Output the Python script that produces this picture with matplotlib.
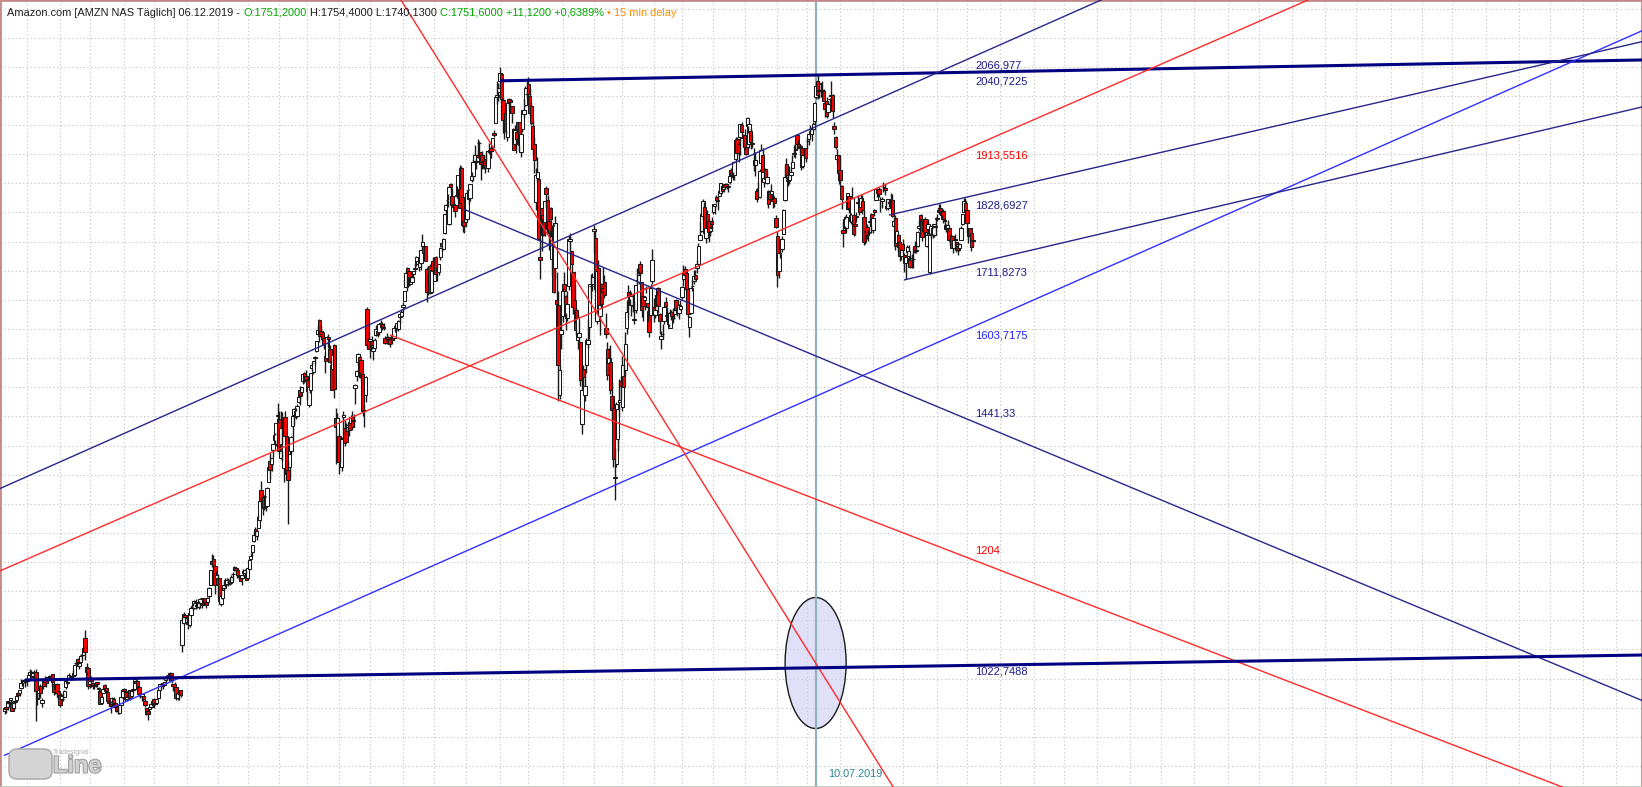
import matplotlib
matplotlib.use("Agg")
import matplotlib.pyplot as plt
import matplotlib.patheffects as pe
from matplotlib.patches import Ellipse, FancyBboxPatch
from matplotlib.transforms import blended_transform_factory, IdentityTransform
import numpy as np

# ---- daily OHLC, AMZN, 10.05.2017 .. 06.12.2019 (one line per month) ----
opens = [
    944, 951, 951, 960, 963, 959, 950, 962, 963, 975, 976, 984, 996, 996, 997,
    999, 998, 1007, 1012, 1005, 1012, 1012, 967, 976, 988, 958, 996, 1000, 996, 999, 1004, 1003, 1008, 990, 982, 990, 978,
    972, 965, 965, 969, 985, 993, 1000, 1004, 1004, 1004, 1007, 1027, 1034, 1022, 1029, 1040, 1040, 1070, 1012, 1019,
    990, 1001, 993, 989, 989, 994, 984, 978, 958, 976, 989, 984, 977, 961, 958, 957, 965, 958, 951, 947, 941, 954, 969,
    983, 977, 965, 971, 980, 971, 980, 982, 996, 996, 985, 974, 971, 971, 962, 949, 945, 948, 952, 957,
    965, 958, 958, 967, 981, 991, 993, 989, 997, 1003, 1005, 1008, 1010, 990, 990, 985, 966, 974, 980, 1058, 1096, 1109,
    1105, 1097, 1092, 1109, 1125, 1122, 1132, 1126, 1123, 1130, 1128, 1137, 1139, 1132, 1132, 1141, 1160, 1202, 1206, 1194, 1173,
    1172, 1173, 1128, 1138, 1156, 1170, 1163, 1166, 1170, 1165, 1179, 1187, 1189, 1187, 1176, 1172, 1172, 1184, 1182, 1182,
    1173, 1188, 1205, 1217, 1236, 1256, 1245, 1259, 1273, 1323, 1312, 1312, 1312, 1297, 1338, 1374, 1368, 1393, 1409, 1403, 1451,
    1446, 1378, 1403, 1361, 1449, 1417, 1358, 1364, 1391, 1434, 1453, 1460, 1451, 1475, 1495, 1492, 1510, 1525, 1519,
    1513, 1469, 1495, 1533, 1526, 1551, 1563, 1592, 1616, 1597, 1595, 1584, 1554, 1550, 1586, 1565, 1539, 1531, 1573, 1448, 1406,
    1417, 1391, 1363, 1449, 1430, 1425, 1431, 1440, 1439, 1449, 1443, 1498, 1519, 1543, 1552, 1547, 1523, 1460, 1487, 1634, 1582,
    1580, 1580, 1562, 1567, 1589, 1596, 1595, 1611, 1609, 1604, 1584, 1581, 1587, 1582, 1586, 1590, 1584, 1605, 1602, 1600, 1620, 1623,
    1638, 1648, 1672, 1704, 1699, 1677, 1681, 1694, 1703, 1714, 1711, 1706, 1714, 1742, 1743, 1743, 1703, 1679, 1708, 1664, 1717,
    1682, 1723, 1705, 1697, 1724, 1747, 1737, 1764, 1804, 1821, 1780, 1849, 1829, 1810, 1812, 1829, 1829, 1840, 1876, 1827, 1786,
    1784, 1788, 1838, 1825, 1855, 1862, 1888, 1888, 1898, 1919, 1904, 1899, 1888, 1891, 1886, 1876, 1907, 1910, 1913, 1937, 1954, 1998, 2007,
    2026, 2038, 1993, 1939, 1971, 1929, 1994, 1993, 1983, 1944, 1917, 1938, 1955, 1955, 1903, 1943, 1969, 1984, 2004,
    2021, 1999, 1982, 1949, 1918, 1818, 1859, 1857, 1724, 1808, 1795, 1784, 1842, 1821, 1785, 1807, 1720, 1777, 1704, 1649, 1642, 1486, 1591,
    1623, 1678, 1657, 1619, 1673, 1751, 1733, 1698, 1650, 1633, 1581, 1587, 1577, 1437, 1532, 1487, 1539, 1575, 1604, 1674, 1678,
    1769, 1756, 1614, 1705, 1623, 1678, 1670, 1680, 1601, 1566, 1541, 1543, 1485, 1464, 1346, 1368, 1412, 1474, 1510,
    1466, 1520, 1530, 1602, 1664, 1652, 1641, 1640, 1615, 1632, 1684, 1680, 1712, 1681, 1657, 1650, 1670, 1644, 1631, 1624, 1683,
    1638, 1624, 1643, 1670, 1626, 1582, 1592, 1614, 1647, 1624, 1627, 1601, 1630, 1619, 1625, 1650, 1630, 1628, 1635,
    1655, 1686, 1703, 1696, 1668, 1604, 1627, 1673, 1683, 1692, 1704, 1712, 1753, 1769, 1794, 1810, 1757, 1797, 1785, 1769, 1786,
    1800, 1811, 1826, 1821, 1829, 1833, 1845, 1841, 1848, 1848, 1843, 1852, 1872, 1861, 1864, 1891, 1926, 1917, 1929, 1950, 1930,
    1933, 1913, 1949, 1918, 1940, 1918, 1900, 1881, 1836, 1839, 1827, 1885, 1898, 1852, 1874, 1851, 1836, 1837, 1832, 1823, 1825, 1791,
    1760, 1700, 1749, 1738, 1763, 1822, 1883, 1854, 1856, 1864, 1877, 1901, 1907, 1933, 1917, 1913, 1911, 1880, 1903, 1910,
    1922, 1926, 1936, 1935, 1944, 1957, 1998, 2025, 2008, 2022, 2010, 2008, 1987, 1992, 1972, 1995, 2000, 2002, 1949, 1930, 1892, 1898,
    1872, 1846, 1770, 1776, 1773, 1806, 1828, 1796, 1783, 1796, 1781, 1793, 1818, 1815, 1809, 1819, 1793, 1766, 1775, 1766, 1784, 1797,
    1770, 1805, 1822, 1838, 1841, 1822, 1820, 1843, 1842, 1811, 1807, 1818, 1821, 1821, 1777, 1790, 1747, 1762, 1749, 1726,
    1746, 1727, 1714, 1732, 1726, 1722, 1719, 1720, 1742, 1733, 1742, 1773, 1796, 1788, 1769, 1788, 1743, 1771, 1697, 1762, 1774, 1762, 1775,
    1788, 1801, 1808, 1801, 1803, 1787, 1779, 1774, 1774, 1751, 1760, 1739, 1754, 1750, 1743, 1739, 1753, 1780, 1801, 1817,
    1805, 1760, 1774, 1764, 1751,
]
highs = [
    951, 952, 962, 962, 967, 961, 962, 963, 973, 977, 981, 999, 998, 999, 999,
    1001, 1008, 1017, 1014, 1012, 1015, 1017, 975, 982, 991, 966, 999, 1005, 996, 1004, 1007, 1006, 1008, 994, 991, 992, 979,
    974, 975, 975, 981, 999, 997, 1009, 1007, 1007, 1015, 1025, 1031, 1035, 1027, 1043, 1043, 1054, 1083, 1026, 1020,
    996, 1004, 994, 992, 993, 995, 986, 981, 972, 985, 990, 984, 977, 966, 961, 969, 968, 961, 953, 953, 955, 969, 981,
    984, 977, 970, 981, 980, 979, 984, 1002, 1001, 997, 987, 976, 973, 971, 965, 950, 947, 952, 959, 962,
    966, 961, 966, 982, 991, 993, 994, 995, 1007, 1005, 1008, 1011, 1010, 991, 994, 986, 977, 977, 981, 1105, 1114, 1111,
    1109, 1101, 1112, 1125, 1130, 1135, 1136, 1131, 1133, 1138, 1130, 1138, 1139, 1133, 1140, 1157, 1186, 1214, 1213, 1194, 1184,
    1180, 1173, 1150, 1155, 1167, 1172, 1172, 1172, 1172, 1178, 1183, 1194, 1192, 1188, 1179, 1174, 1178, 1188, 1188, 1185,
    1191, 1206, 1216, 1230, 1254, 1260, 1255, 1280, 1305, 1339, 1316, 1315, 1313, 1328, 1364, 1388, 1379, 1402, 1422, 1439, 1473,
    1459, 1459, 1458, 1444, 1460, 1417, 1373, 1391, 1416, 1452, 1465, 1465, 1471, 1489, 1502, 1500, 1522, 1526, 1529,
    1519, 1501, 1525, 1544, 1545, 1553, 1579, 1606, 1618, 1606, 1596, 1587, 1561, 1588, 1591, 1573, 1550, 1556, 1575, 1465, 1455,
    1421, 1415, 1414, 1459, 1443, 1438, 1439, 1440, 1452, 1459, 1454, 1505, 1530, 1559, 1555, 1549, 1523, 1469, 1519, 1638, 1597,
    1583, 1588, 1572, 1584, 1607, 1597, 1608, 1615, 1612, 1611, 1588, 1593, 1588, 1583, 1588, 1592, 1602, 1608, 1611, 1616, 1626, 1635,
    1646, 1666, 1697, 1707, 1699, 1689, 1694, 1699, 1714, 1725, 1718, 1724, 1736, 1763, 1744, 1743, 1706, 1696, 1711, 1705, 1723,
    1717, 1725, 1709, 1711, 1740, 1751, 1756, 1797, 1814, 1832, 1845, 1851, 1842, 1822, 1812, 1845, 1864, 1882, 1880, 1829, 1801,
    1798, 1836, 1841, 1848, 1869, 1891, 1915, 1893, 1926, 1922, 1904, 1905, 1898, 1892, 1906, 1905, 1919, 1912, 1928, 1942, 1999, 2025, 2022,
    2050, 2040, 1998, 1954, 1971, 1988, 1997, 1994, 1983, 1945, 1950, 1940, 1955, 1956, 1940, 1975, 1995, 2017, 2027,
    2033, 2013, 1990, 1957, 1929, 1876, 1896, 1858, 1755, 1808, 1795, 1820, 1845, 1830, 1809, 1810, 1778, 1780, 1794, 1698, 1665, 1539, 1623,
    1670, 1697, 1658, 1665, 1759, 1765, 1733, 1698, 1677, 1638, 1626, 1615, 1578, 1534, 1539, 1525, 1585, 1617, 1678, 1695, 1696,
    1779, 1770, 1701, 1719, 1657, 1679, 1706, 1693, 1628, 1577, 1567, 1572, 1509, 1481, 1396, 1474, 1462, 1514, 1520,
    1554, 1538, 1594, 1649, 1676, 1667, 1663, 1660, 1648, 1675, 1705, 1700, 1716, 1681, 1657, 1657, 1674, 1645, 1633, 1677, 1737,
    1653, 1649, 1665, 1672, 1627, 1596, 1608, 1639, 1655, 1637, 1629, 1634, 1632, 1636, 1634, 1652, 1640, 1643, 1650,
    1674, 1710, 1708, 1697, 1669, 1623, 1672, 1685, 1701, 1702, 1718, 1747, 1784, 1799, 1823, 1818, 1783, 1805, 1789, 1777, 1792,
    1815, 1815, 1830, 1828, 1839, 1851, 1848, 1849, 1850, 1851, 1849, 1870, 1876, 1870, 1889, 1929, 1929, 1923, 1951, 1956, 1935,
    1944, 1918, 1964, 1959, 1945, 1935, 1910, 1904, 1842, 1852, 1874, 1918, 1910, 1867, 1876, 1872, 1838, 1838, 1849, 1831, 1829, 1796,
    1768, 1730, 1749, 1760, 1806, 1884, 1893, 1869, 1880, 1876, 1898, 1916, 1919, 1935, 1925, 1917, 1916, 1898, 1911, 1911,
    1929, 1935, 1950, 1947, 1956, 1989, 2024, 2036, 2018, 2023, 2026, 2012, 1987, 1998, 1990, 1997, 2026, 2004, 1956, 1932, 1909, 1899,
    1897, 1847, 1786, 1794, 1798, 1834, 1829, 1799, 1843, 1798, 1788, 1801, 1830, 1817, 1831, 1830, 1804, 1770, 1780, 1770, 1792, 1799,
    1790, 1806, 1842, 1840, 1843, 1826, 1826, 1853, 1848, 1822, 1823, 1823, 1833, 1831, 1792, 1796, 1770, 1764, 1751, 1738,
    1755, 1731, 1726, 1745, 1745, 1727, 1729, 1739, 1751, 1749, 1768, 1787, 1798, 1789, 1787, 1793, 1767, 1789, 1764, 1777, 1778, 1781, 1793,
    1797, 1814, 1815, 1805, 1806, 1790, 1780, 1787, 1775, 1761, 1761, 1755, 1763, 1750, 1750, 1748, 1776, 1798, 1824, 1825,
    1805, 1773, 1772, 1764, 1754,
]
lows = [
    940, 941, 947, 951, 957, 944, 947, 956, 963, 969, 970, 982, 988, 992, 985,
    988, 996, 1004, 1001, 1001, 1005, 927, 954, 967, 967, 952, 982, 994, 986, 994, 997, 998, 987, 972, 974, 969, 964,
    951, 959, 961, 969, 983, 989, 999, 997, 997, 1004, 1004, 1022, 1023, 1016, 1028, 1032, 1040, 1032, 1007, 982,
    984, 986, 982, 982, 985, 985, 975, 956, 956, 975, 979, 976, 960, 953, 941, 954, 954, 950, 943, 940, 940, 954, 967,
    973, 962, 962, 967, 963, 970, 975, 980, 990, 980, 973, 967, 962, 962, 952, 937, 929, 941, 950, 953,
    950, 954, 957, 966, 978, 983, 983, 987, 995, 999, 996, 1002, 993, 978, 982, 964, 964, 963, 969, 1046, 1092, 1102,
    1096, 1086, 1088, 1108, 1118, 1119, 1119, 1121, 1119, 1122, 1121, 1126, 1127, 1122, 1129, 1138, 1160, 1192, 1184, 1145, 1167,
    1139, 1128, 1124, 1137, 1151, 1157, 1160, 1159, 1160, 1163, 1167, 1184, 1180, 1172, 1170, 1167, 1161, 1176, 1175, 1169,
    1170, 1187, 1205, 1210, 1235, 1245, 1238, 1259, 1268, 1301, 1281, 1289, 1288, 1297, 1338, 1343, 1357, 1378, 1403, 1400, 1439,
    1385, 1377, 1373, 1338, 1415, 1351, 1266, 1344, 1385, 1407, 1435, 1446, 1450, 1473, 1470, 1486, 1506, 1508, 1512,
    1479, 1466, 1491, 1528, 1522, 1538, 1560, 1591, 1578, 1586, 1580, 1566, 1525, 1546, 1567, 1542, 1495, 1499, 1482, 1368, 1405,
    1352, 1370, 1357, 1418, 1400, 1405, 1421, 1416, 1435, 1426, 1431, 1471, 1511, 1538, 1516, 1511, 1450, 1432, 1475, 1567, 1565,
    1550, 1565, 1546, 1566, 1588, 1586, 1590, 1600, 1599, 1599, 1575, 1575, 1575, 1569, 1579, 1574, 1582, 1595, 1598, 1596, 1610, 1621,
    1630, 1648, 1672, 1666, 1673, 1676, 1680, 1687, 1700, 1708, 1710, 1700, 1702, 1735, 1726, 1716, 1647, 1659, 1660, 1663, 1694,
    1682, 1687, 1683, 1693, 1719, 1734, 1736, 1763, 1796, 1810, 1778, 1835, 1809, 1808, 1793, 1824, 1822, 1808, 1806, 1766, 1764,
    1776, 1786, 1814, 1819, 1853, 1856, 1883, 1874, 1893, 1901, 1855, 1874, 1875, 1867, 1881, 1869, 1900, 1894, 1910, 1929, 1954, 1986, 1991,
    2013, 1989, 1936, 1926, 1935, 1922, 1975, 1972, 1954, 1907, 1915, 1902, 1929, 1905, 1895, 1938, 1962, 1983, 1997,
    1983, 1965, 1950, 1897, 1868, 1804, 1853, 1754, 1685, 1734, 1759, 1760, 1808, 1764, 1735, 1758, 1692, 1661, 1685, 1603, 1476, 1480, 1565,
    1612, 1644, 1598, 1614, 1667, 1734, 1693, 1626, 1610, 1590, 1565, 1578, 1502, 1420, 1502, 1476, 1524, 1567, 1582, 1652, 1666,
    1730, 1665, 1609, 1628, 1590, 1636, 1660, 1653, 1584, 1513, 1523, 1488, 1441, 1363, 1307, 1363, 1390, 1449, 1480,
    1460, 1500, 1519, 1592, 1617, 1641, 1622, 1630, 1608, 1627, 1676, 1677, 1691, 1620, 1613, 1633, 1661, 1614, 1587, 1622, 1678,
    1612, 1619, 1640, 1627, 1592, 1566, 1582, 1609, 1637, 1615, 1603, 1601, 1616, 1611, 1618, 1630, 1622, 1618, 1632,
    1652, 1674, 1687, 1666, 1621, 1587, 1626, 1665, 1677, 1684, 1696, 1710, 1753, 1767, 1787, 1763, 1747, 1778, 1749, 1759, 1770,
    1798, 1798, 1816, 1804, 1829, 1830, 1834, 1835, 1840, 1840, 1835, 1849, 1860, 1856, 1855, 1889, 1898, 1887, 1898, 1935, 1914,
    1908, 1898, 1936, 1910, 1909, 1911, 1871, 1863, 1818, 1825, 1825, 1885, 1869, 1844, 1857, 1849, 1808, 1820, 1821, 1807, 1810, 1773,
    1672, 1688, 1722, 1732, 1763, 1819, 1858, 1846, 1848, 1862, 1876, 1895, 1893, 1907, 1910, 1898, 1872, 1877, 1896, 1886,
    1909, 1916, 1932, 1922, 1939, 1952, 1994, 1995, 1997, 1998, 2002, 1990, 1963, 1962, 1969, 1983, 1994, 1962, 1934, 1909, 1884, 1849,
    1845, 1806, 1740, 1766, 1764, 1804, 1799, 1781, 1783, 1760, 1762, 1784, 1813, 1796, 1810, 1798, 1745, 1746, 1755, 1751, 1776, 1764,
    1764, 1794, 1821, 1826, 1826, 1800, 1808, 1835, 1830, 1804, 1805, 1810, 1815, 1792, 1775, 1736, 1743, 1732, 1716, 1718,
    1729, 1698, 1685, 1730, 1718, 1705, 1705, 1705, 1731, 1731, 1741, 1770, 1783, 1751, 1765, 1762, 1741, 1763, 1695, 1754, 1757, 1758, 1762,
    1785, 1797, 1795, 1789, 1782, 1771, 1767, 1769, 1753, 1745, 1739, 1731, 1736, 1732, 1727, 1733, 1753, 1778, 1801, 1799,
    1765, 1747, 1757, 1734, 1740,
]
closes = [
    949, 948, 961, 958, 966, 945, 958, 960, 971, 972, 980, 993, 996, 997, 995,
    996, 1007, 1011, 1003, 1010, 1010, 978, 965, 981, 976, 964, 988, 995, 993, 1002, 1001, 1004, 994, 977, 990, 976, 968,
    954, 971, 965, 979, 996, 994, 1007, 1001, 1002, 1010, 1024, 1027, 1029, 1026, 1039, 1040, 1053, 1046, 1020, 988,
    996, 996, 987, 988, 992, 990, 982, 957, 968, 983, 983, 978, 961, 958, 953, 967, 958, 952, 945, 946, 954, 968, 981,
    978, 965, 968, 979, 966, 978, 983, 1000, 992, 987, 974, 970, 973, 965, 955, 940, 939, 951, 956, 961,
    959, 957, 965, 981, 990, 991, 987, 995, 1001, 1003, 1006, 1009, 997, 987, 983, 966, 976, 973, 972, 1101, 1111, 1105,
    1104, 1094, 1112, 1121, 1123, 1133, 1129, 1125, 1129, 1137, 1127, 1137, 1130, 1126, 1139, 1156, 1186, 1196, 1194, 1161, 1177,
    1162, 1134, 1142, 1152, 1160, 1162, 1169, 1165, 1164, 1174, 1179, 1191, 1187, 1178, 1175, 1168, 1177, 1182, 1186, 1169,
    1189, 1204, 1210, 1229, 1247, 1253, 1254, 1277, 1305, 1305, 1295, 1293, 1295, 1327, 1363, 1358, 1378, 1402, 1418, 1438, 1451,
    1390, 1430, 1390, 1443, 1417, 1351, 1340, 1386, 1415, 1451, 1462, 1449, 1468, 1483, 1485, 1500, 1522, 1512, 1512,
    1493, 1500, 1524, 1538, 1545, 1552, 1579, 1598, 1588, 1591, 1582, 1572, 1545, 1587, 1582, 1544, 1496, 1556, 1497, 1431, 1447,
    1372, 1392, 1411, 1452, 1405, 1406, 1436, 1427, 1449, 1431, 1442, 1504, 1528, 1557, 1527, 1518, 1460, 1460, 1518, 1573, 1566,
    1582, 1570, 1572, 1581, 1600, 1592, 1608, 1609, 1603, 1602, 1576, 1587, 1582, 1574, 1585, 1581, 1602, 1603, 1610, 1613, 1625, 1630,
    1642, 1665, 1696, 1696, 1689, 1684, 1689, 1699, 1705, 1724, 1716, 1724, 1735, 1750, 1730, 1716, 1663, 1691, 1661, 1701, 1700,
    1714, 1694, 1700, 1711, 1739, 1743, 1755, 1797, 1813, 1822, 1844, 1843, 1813, 1814, 1802, 1829, 1864, 1808, 1817, 1779, 1777,
    1797, 1834, 1823, 1848, 1862, 1887, 1899, 1886, 1896, 1920, 1883, 1887, 1882, 1877, 1883, 1905, 1903, 1905, 1928, 1933, 1998, 2002, 2013,
    2040, 1995, 1958, 1952, 1939, 1987, 1990, 1990, 1970, 1908, 1941, 1926, 1944, 1915, 1934, 1975, 1975, 2013, 2003,
    2004, 1971, 1953, 1909, 1890, 1864, 1870, 1755, 1719, 1789, 1761, 1820, 1832, 1771, 1764, 1789, 1769, 1664, 1782, 1643, 1539, 1530, 1598,
    1666, 1666, 1628, 1643, 1755, 1755, 1712, 1637, 1631, 1599, 1619, 1593, 1512, 1495, 1517, 1502, 1581, 1581, 1678, 1674, 1690,
    1772, 1668, 1699, 1629, 1641, 1643, 1664, 1658, 1592, 1521, 1551, 1495, 1461, 1377, 1344, 1471, 1462, 1478, 1502,
    1539, 1500, 1575, 1630, 1657, 1659, 1656, 1641, 1617, 1675, 1684, 1693, 1696, 1632, 1640, 1655, 1671, 1638, 1594, 1670, 1719,
    1626, 1633, 1659, 1640, 1614, 1588, 1591, 1638, 1640, 1623, 1608, 1628, 1622, 1619, 1632, 1633, 1636, 1641, 1640,
    1672, 1696, 1692, 1669, 1626, 1621, 1671, 1673, 1691, 1686, 1712, 1742, 1762, 1797, 1819, 1765, 1774, 1784, 1766, 1773, 1781,
    1814, 1814, 1821, 1819, 1837, 1850, 1836, 1847, 1844, 1843, 1845, 1863, 1865, 1862, 1887, 1924, 1902, 1902, 1951, 1938, 1927,
    1912, 1901, 1962, 1951, 1921, 1918, 1900, 1890, 1823, 1840, 1871, 1908, 1869, 1859, 1858, 1860, 1815, 1823, 1836, 1819, 1816, 1775,
    1693, 1730, 1739, 1754, 1804, 1861, 1864, 1855, 1870, 1870, 1886, 1901, 1909, 1918, 1911, 1914, 1878, 1898, 1904, 1894,
    1922, 1934, 1939, 1943, 1952, 1988, 2017, 2001, 2011, 2021, 2010, 1992, 1978, 1965, 1986, 1994, 2001, 1974, 1943, 1912, 1899, 1867,
    1855, 1823, 1765, 1788, 1793, 1833, 1808, 1785, 1824, 1763, 1776, 1793, 1816, 1801, 1824, 1805, 1750, 1769, 1762, 1764, 1786, 1776,
    1790, 1801, 1841, 1834, 1831, 1821, 1823, 1844, 1839, 1808, 1823, 1817, 1822, 1794, 1785, 1742, 1768, 1740, 1725, 1736,
    1736, 1713, 1724, 1740, 1733, 1706, 1722, 1720, 1732, 1736, 1767, 1777, 1787, 1758, 1786, 1766, 1762, 1781, 1761, 1777, 1763, 1780, 1777,
    1791, 1805, 1802, 1796, 1788, 1786, 1772, 1778, 1753, 1755, 1739, 1753, 1753, 1746, 1735, 1746, 1774, 1797, 1819, 1801,
    1782, 1770, 1761, 1740, 1752,
]

# trading days per month (May 2017 .. Dec 2019) -> monthly grid lines
month_days = [15, 22, 20, 23, 20, 22, 21, 20,
              21, 19, 21, 21, 22, 21, 21, 23, 19, 23, 21, 19,
              21, 19, 21, 21, 22, 20, 22, 22, 20, 23, 20, 5]
# weekdays per month in the empty future area (Dec 2019 .. Aug 2021)
future_month_days = [17, 23, 20, 22, 22, 21, 22, 23, 21, 22, 22, 21, 23,
                     21, 20, 23, 22, 21, 22, 22]

# trend lines: two anchor points (bar index, price) + drawn range
line_a_idx = [332, 0, 0, 0, 592.7, 602.8, 307.5, 258.3, 265.7, 13.5]
line_a_val = [2025.9, 1329.7, 1188.3, 868.5, 1795.5, 1684.1, 1805.9, 1589.7, 2164.6, 997.6]
line_b_idx = [649, 649, 649, 649, 649, 649, 649, 649, 543.6, 649]
line_b_val = [2040.7225, 2066.977, 1913.5516, 1603.7175, 1828.6927, 1711.8273, 1441.33, 1204, 1026.8, 1022.7488]
line_from = [332, -5, -5, -0.5, 592.7, 602.8, 307.5, 258.3, 240, 13.5]
line_to = [1100, 1100, 1100, 1100, 1100, 1100, 1100, 1100, 620, 1100]
line_color = ['#000080', '#26268c', '#ff2a2a', '#3030ff', '#26268c', '#26268c',
              '#26268c', '#ff2a2a', '#ff2a2a', '#000080']
line_width = [2.2, 1.0, 1.0, 1.0, 1.0, 1.0, 1.0, 1.0, 1.0, 2.2]

# value labels at the last bar
label_text = ['2066,977', '2040,7225', '1913,5516', '1828,6927', '1711,8273',
              '1603,7175', '1441,33', '1204', '1022,7488']
label_val = [2066.977, 2040.7225, 1913.5516, 1828.6927, 1711.8273,
             1603.7175, 1441.33, 1204, 1022.7488]
label_dy = [-8.6, -9.3, -9, -9.6, -9, -8.6, 8.4, 9, -6]   # pixels, negative = below
label_color = ['#1c1c8c', '#1c1c8c', '#ff0000', '#1c1c8c', '#1c1c8c',
               '#2020ff', '#1c1c8c', '#ff0000', '#1c1c8c']

marker_idx = 544          # 10.07.2019
marker_text = '10.07.2019'

title_parts = [("Amazon.com [AMZN NAS Täglich] 06.12.2019 -", '#1e1e1e'),
               ("O:1751,2000", '#00a800'),
               ("H:1754,4000 L:1740,1300", '#1e1e1e'),
               ("C:1751,6000 +11,1200 +0,6389%", '#00a800'),
               ("•", '#ff8c00'),
               ("15 min delay", '#ff8c00')]

W, H = 1642, 787
FONT = ['Liberation Sans', 'DejaVu Sans']

fig = plt.figure(figsize=(W / 100, H / 100), dpi=100)
ax = fig.add_axes([0, 0, 1, 1])
ax.set_xlim(-3.08, 1097.5)
ax.set_ylim(814.0, 2164.6)

o = np.array(opens, float)
h = np.array(highs, float)
l = np.array(lows, float)
c = np.array(closes, float)
n = min(len(o), len(h), len(l), len(c))
o, h, l, c = o[:n], h[:n], l[:n], c[:n]
idx = np.arange(n)
body_lo = np.minimum(o, c)
body_hi = np.maximum(o, c)

# grid
starts = np.concatenate([np.cumsum(month_days)[:-1],
                         len(closes) + np.cumsum(future_month_days)])
ax.set_xticks(starts)
ax.set_yticks(np.arange(850, 2151, 50))
ax.tick_params(length=0, labelbottom=False, labelleft=False)
ax.set_axisbelow(True)
ax.grid(True, color='#c9c9c9', lw=0.8, ls=(0, (1.2, 2.2)))
for side in ['left', 'top', 'right']:
    ax.spines[side].set_color('#c48a8a')
    ax.spines[side].set_linewidth(2)
ax.spines['bottom'].set_color('#b9c9b9')
ax.spines['bottom'].set_linewidth(2)

# marker ellipse + vertical date line
ax.add_patch(Ellipse((543.6, 1026.8), 40.9, 224.8, facecolor=(0.80, 0.80, 0.96, 0.6),
                     edgecolor='#1a1a1a', lw=1.0, zorder=1.8))
ax.axvline(marker_idx, color='#8db4bd', lw=1.6, zorder=1.9)
bt = blended_transform_factory(ax.transData, ax.transAxes)
ax.text(marker_idx + 12 / 1.492, 1 - 774 / H, marker_text, transform=bt, ha='left',
        va='center', fontsize=7.8, color='#2b8394', family=FONT)

# candles
ax.bar(idx, np.maximum(body_hi - body_lo, 0.6), bottom=body_lo, width=2.3,
       color=np.where(c >= o, '#ffffff', '#ff0000'), edgecolor='#1a1a1a',
       linewidth=0.75, zorder=2)
ax.vlines(idx, l, body_lo, color='#1a1a1a', lw=1.0, zorder=2.5)
ax.vlines(idx, body_hi, h, color='#1a1a1a', lw=1.0, zorder=2.5)

# trend lines
for a, pa, b, pb, x0, x1, col, lw in zip(line_a_idx, line_a_val, line_b_idx, line_b_val,
                                        line_from, line_to, line_color, line_width):
    xs = np.array([x0, x1])
    ax.plot(xs, pa + (pb - pa) / (b - a) * (xs - a), color=col, lw=lw,
            solid_capstyle='butt', zorder=4)

# value labels
for txt, val, dy, col in zip(label_text, label_val, label_dy, label_color):
    ax.annotate(txt, xy=(650.4, val), xytext=(0, dy * 0.72), textcoords='offset points',
                ha='left', va='center', fontsize=8.0, color=col, family=FONT, zorder=5)

# title line with coloured parts
fig.canvas.draw()
r = fig.canvas.get_renderer()
x = 7.0
for txt, col in title_parts:
    t = fig.text(x / W, 1 - 12.5 / H, txt, color=col, fontsize=7.9, family=FONT,
                 ha='left', va='center')
    x = t.get_window_extent(renderer=r).x1 + 3.2

# Tradesignal online logo (bottom left)
ident = IdentityTransform()
fig.patches.append(FancyBboxPatch((9, 8), 43, 30, boxstyle="round,pad=0,rounding_size=8",
                                  transform=ident, fc='#d4d4d4', ec='#b0b0b0', lw=1.2,
                                  figure=fig, zorder=5))
stroke = [pe.withStroke(linewidth=1.6, foreground='#a2a2a2')]
fig.text(30.5 / W, 22 / H, 'on', fontsize=17, fontweight='bold', color='#f2f2f2',
         ha='center', va='center', family=FONT, path_effects=stroke)
fig.text(53 / W, 21 / H, 'Line', fontsize=17, fontweight='bold', color='#d0d0d0',
         ha='left', va='center', family=FONT, path_effects=stroke)
fig.text(53 / W, 34 / H, 'Tradesignal', fontsize=5, color='#b0b0b0',
         ha='left', va='center', family=FONT)

fig.savefig('out.png', dpi=100)
